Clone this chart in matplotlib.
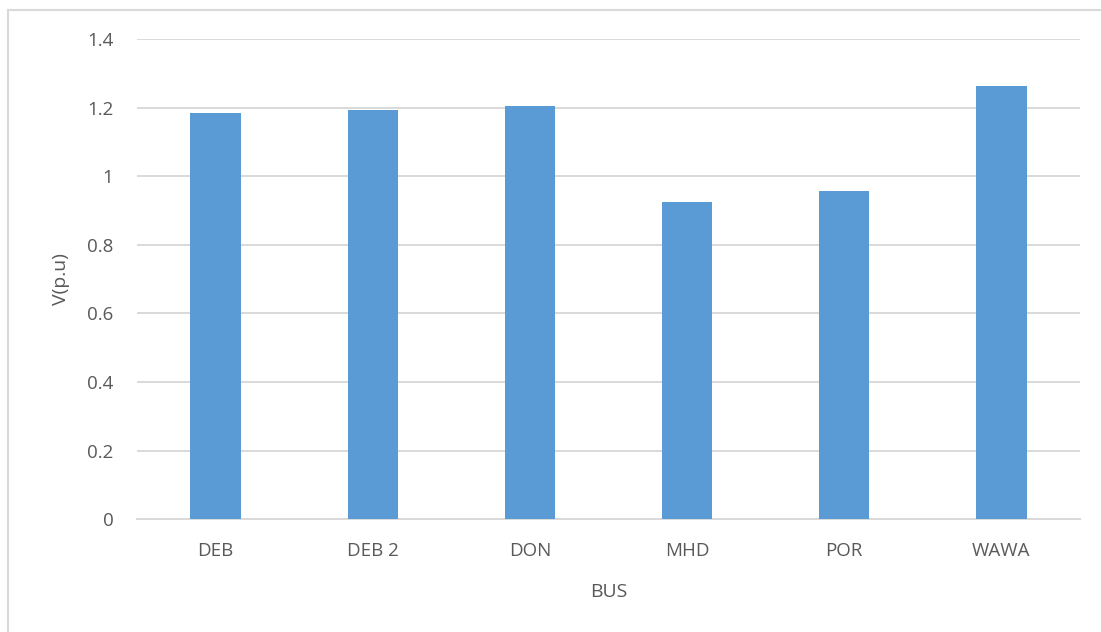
import matplotlib.pyplot as plt
from matplotlib.patches import Rectangle

buses = ["DEB", "DEB 2", "DON", "MHD", "POR", "WAWA"]
voltage = [1.183, 1.194, 1.205, 0.925, 0.957, 1.263]
yticks = [0, 0.2, 0.4, 0.6, 0.8, 1, 1.2, 1.4]
ytick_labels = ["0", "0.2", "0.4", "0.6", "0.8", "1", "1.2", "1.4"]

plt.rcParams['font.family'] = ['Open Sans', 'DejaVu Sans']
txt = '#595959'
grid = '#d9d9d9'

fig = plt.figure(figsize=(11.01, 6.32), dpi=100)
ax = fig.add_axes([137 / 1101, 1 - 519.3 / 632, 943 / 1101, 480.3 / 632])

x = range(len(buses))
ax.bar(x, voltage, width=0.32, color='#5b9bd5', zorder=3)

ax.set_xlim(-0.5, len(buses) - 0.5)
ax.set_ylim(0, 1.4)
ax.set_yticks(yticks)
ax.set_yticklabels(ytick_labels)
ax.set_xticks(list(x))
ax.set_xticklabels(buses)
ax.tick_params(length=0, labelsize=13.5, labelcolor=txt)
ax.tick_params(axis='y', pad=17)
ax.tick_params(axis='x', pad=16)
ax.yaxis.grid(True, color=grid, linewidth=1.4, zorder=0)
for s in ['top', 'right', 'left']:
    ax.spines[s].set_visible(False)
ax.spines['bottom'].set_color(grid)
ax.spines['bottom'].set_linewidth(1.4)

ax.set_xlabel("BUS", fontsize=14, color=txt, labelpad=17)
ax.set_ylabel("V(p.u)", fontsize=14, color=txt, labelpad=12)

# outer chart frame, cut off on the right and bottom
fig.patches.append(Rectangle((7.5 / 1101, -0.1), 1.2, 1.1 - 10 / 632,
                             transform=fig.transFigure, fill=False,
                             edgecolor=grid, linewidth=1.5))

fig.savefig("out.png", dpi=100)
